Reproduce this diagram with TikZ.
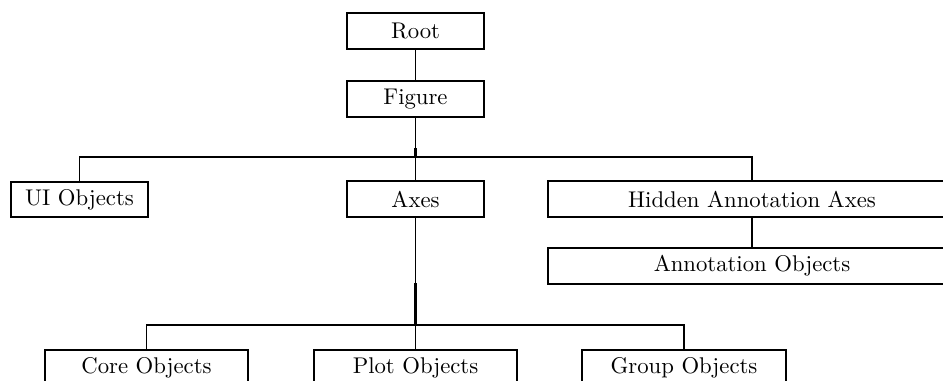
\documentclass[tikz,border=0pt]{standalone}
\begin{document}
\begin{tikzpicture}[x=0.44pt,y=-0.44pt,
  objbox/.style={draw,line width=0.8pt,rectangle,inner sep=0pt,minimum height=15.6pt},
  narrow/.style={objbox,minimum width=60.3pt},
  mid/.style={objbox,minimum width=89.6pt},
  wide/.style={objbox,minimum width=179.5pt},
  link/.style={line width=0.85pt},
  joint/.style={line width=1.6pt}]
\clip (0,0) rectangle (943,381);
\node [narrow] (root) at (415.5,31) {Root};
\node [narrow] (figure) at (415.5,99) {Figure};
\node [narrow] (ui) at (79.5,199.5) {UI Objects};
\node [narrow] (axes) at (415.5,199) {Axes};
\node [wide] (hidden) at (752,199) {Hidden Annotation Axes};
\node [wide] (annot) at (752,266) {Annotation Objects};
\node [mid] (core) at (146.5,367.5) {Core Objects};
\node [mid] (plot) at (415.5,367.5) {Plot Objects};
\node [mid] (group) at (684,367.5) {Group Objects};
\coordinate (figbar) at (415.5,157);
\coordinate (axbar) at (415.5,325);
% tree edges
\draw [link] (root) -- (figure);
\draw [link] (figure) -- (figbar);
\draw [link] (ui) |- (figbar) -| (hidden);
\draw [link] (axes) -- (figbar);
\draw [link] (hidden) -- (annot);
\draw [link] (axes) -- (axbar);
\draw [link] (core) |- (axbar) -| (group);
\draw [link] (plot) -- (axbar);
\draw [joint] (figbar) -- ++(0,-9);
\draw [joint] (axbar) -- ++(0,-42);
\end{tikzpicture}
\end{document}
